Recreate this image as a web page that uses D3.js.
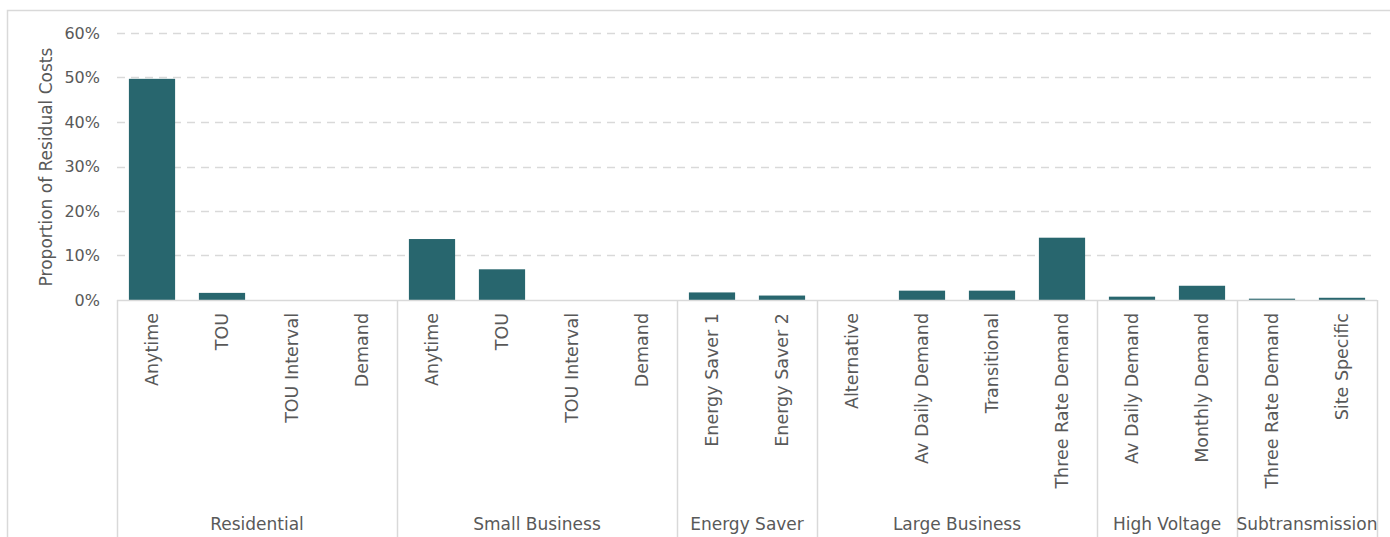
<!DOCTYPE html>
<html>
<head>
<meta charset="utf-8">
<script src="https://cdn.jsdelivr.net/npm/d3@7"></script>
<style>
  html, body { margin: 0; padding: 0; background: #fff; }
  svg { display: block; }
  text { font-family: "DejaVu Sans", "Open Sans", sans-serif; fill: #595959; }
</style>
</head>
<body>
<svg id="chart" width="1390" height="537"></svg>
<script>
// Tariff groups and their tariffs, in display order
const groups = ["Residential", "Small Business", "Energy Saver", "Large Business", "High Voltage", "Subtransmission"];
const groupTariffs = [
  ["Anytime", "TOU", "TOU Interval", "Demand"],
  ["Anytime", "TOU", "TOU Interval", "Demand"],
  ["Energy Saver 1", "Energy Saver 2"],
  ["Alternative", "Av Daily Demand", "Transitional", "Three Rate Demand"],
  ["Av Daily Demand", "Monthly Demand"],
  ["Three Rate Demand", "Site Specific"]
];
// Share of residual costs per tariff (fraction), same order as above
const groupValues = [
  [0.497, 0.016, 0, 0],
  [0.137, 0.069, 0, 0],
  [0.017, 0.010],
  [0, 0.021, 0.021, 0.140],
  [0.0075, 0.032],
  [0.003, 0.005]
];
const yTicks = [0, 0.1, 0.2, 0.3, 0.4, 0.5, 0.6];
const yTitle = "Proportion of Residual Costs";

// Flatten into one row per bar
const rows = [];
groups.forEach((g, gi) => {
  groupTariffs[gi].forEach((t, ti) => {
    rows.push({ key: gi + "|" + ti, group: g, gi, tariff: t, value: groupValues[gi][ti] });
  });
});

const svg = d3.select("#chart");
const plotLeft = 117, plotRight = 1377, plotTop = 33, plotBase = 300;

const x = d3.scaleBand().domain(rows.map(d => d.key)).range([plotLeft, plotRight]).paddingInner(0.34).paddingOuter(0.17);
const y = d3.scaleLinear().domain([0, 0.6]).range([plotBase, plotTop]);

// Outer chart frame (top and left edges)
svg.append("path")
  .attr("d", "M7.5,537 V10.5 H1390")
  .attr("fill", "none").attr("stroke", "#d9d9d9").attr("stroke-width", 1.5);

// Dashed gridlines and percentage ticks
const yAxis = d3.axisLeft(y).tickValues(yTicks).tickFormat(d3.format(".0%")).tickSize(0).tickPadding(17);
const ya = svg.append("g").attr("transform", `translate(${plotLeft},0)`).call(yAxis);
ya.select(".domain").remove();
ya.selectAll("text").style("font-size", "16px").attr("fill", "#595959").attr("font-family", null);

svg.append("g").selectAll("line").data(yTicks.filter(d => d > 0)).join("line")
  .attr("x1", plotLeft).attr("x2", plotRight - 2)
  .attr("y1", d => Math.round(y(d)) + 0.5).attr("y2", d => Math.round(y(d)) + 0.5)
  .attr("stroke", "#d9d9d9").attr("stroke-width", 1.5).attr("stroke-dasharray", "8,6");

// Bars
svg.append("g").selectAll("rect").data(rows).join("rect")
  .attr("x", d => x(d.key))
  .attr("width", x.bandwidth())
  .attr("y", d => y(d.value))
  .attr("height", d => y(0) - y(d.value))
  .attr("fill", "#28666e");

// Category axis: baseline and group separators
const step = x.step();
const groupBounds = [];
let idx = 0;
groups.forEach((g, gi) => {
  const n = groupTariffs[gi].length;
  groupBounds.push({ g, x0: plotLeft + idx * step, x1: plotLeft + (idx + n) * step });
  idx += n;
});
svg.append("line").attr("x1", plotLeft).attr("x2", plotRight).attr("y1", plotBase + 0.5).attr("y2", plotBase + 0.5)
  .attr("stroke", "#d9d9d9").attr("stroke-width", 1.5);
const seps = [plotLeft].concat(groupBounds.map(b => b.x1));
svg.append("g").selectAll("line").data(seps).join("line")
  .attr("x1", d => Math.round(d) + 0.5).attr("x2", d => Math.round(d) + 0.5)
  .attr("y1", plotBase).attr("y2", 537)
  .attr("stroke", "#d9d9d9").attr("stroke-width", 1.5);

// Tariff labels, rotated
svg.append("g").selectAll("text").data(rows).join("text")
  .attr("transform", d => `translate(${x(d.key) + x.bandwidth() / 2 + 6},313) rotate(-90)`)
  .attr("text-anchor", "end")
  .style("font-size", "17.5px")
  .text(d => d.tariff);

// Group labels
svg.append("g").selectAll("text").data(groupBounds).join("text")
  .attr("x", d => (d.x0 + d.x1) / 2).attr("y", 530)
  .attr("text-anchor", "middle")
  .style("font-size", "17px")
  .text(d => d.g);

// Value axis title
svg.append("text")
  .attr("transform", `translate(52,167) rotate(-90)`)
  .attr("text-anchor", "middle")
  .style("font-size", "17px")
  .text(yTitle);
</script>
</body>
</html>
